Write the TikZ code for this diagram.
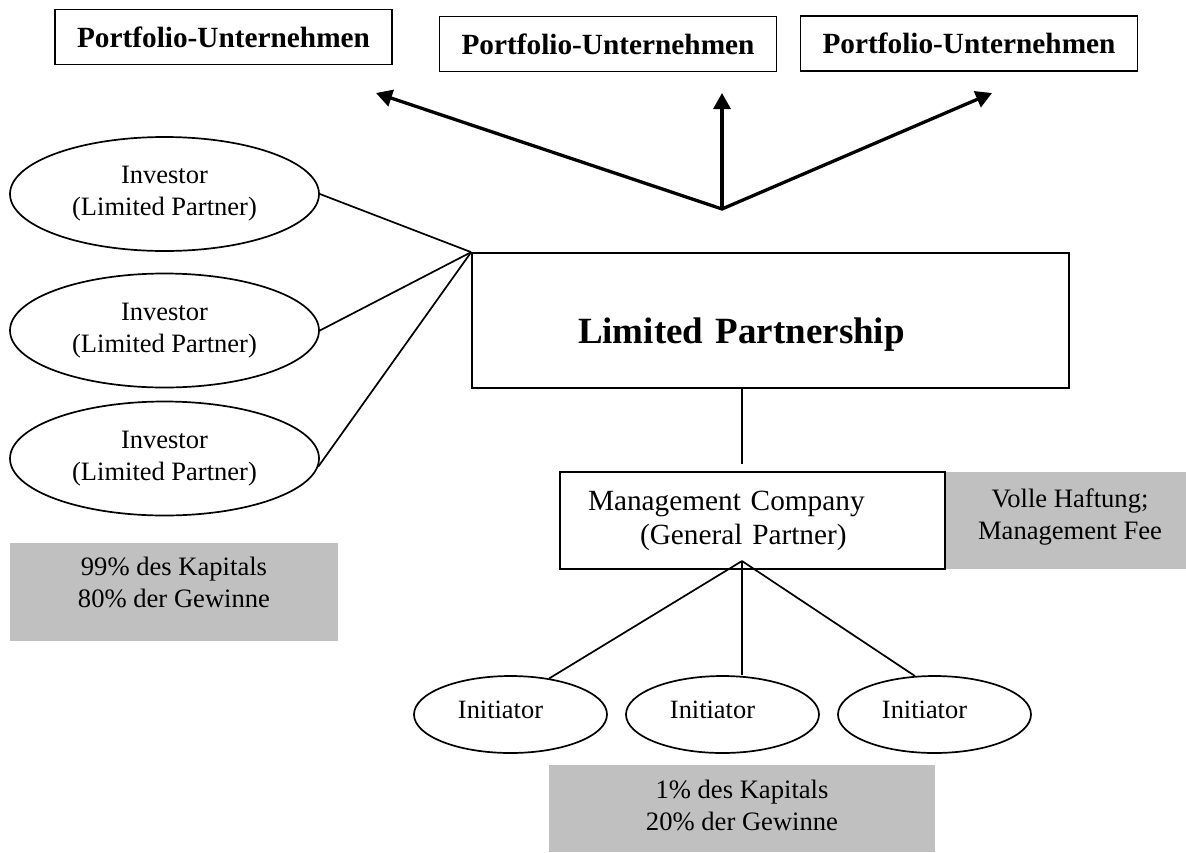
\documentclass[tikz,border=0pt]{standalone}
\usepackage{fontspec}
\setmainfont{Liberation Serif}
\usepackage{tikz}
\usetikzlibrary{shapes,arrows.meta}
\usepackage{xcolor}
\definecolor{noteGray}{RGB}{192,192,192}

\begin{document}
\begin{tikzpicture}[
  x=1pt,y=-1pt,
  company/.style={draw,line width=1.7pt,rectangle,minimum width=337pt,minimum height=55pt,inner sep=0pt,font=\fontsize{29.3pt}{35pt}\selectfont\bfseries},
  partnership/.style={draw,line width=1.7pt,rectangle,minimum width=597pt,minimum height=135pt,inner xsep=106pt,text width=385pt,align=left,text height=53pt,font=\fontsize{37pt}{44pt}\selectfont\bfseries},
  manager/.style={draw,line width=1.7pt,rectangle,minimum width=385pt,minimum height=97pt,inner xsep=28pt,text width=329pt,align=left,font=\fontsize{29.3pt}{34pt}\selectfont},
  investor/.style={draw,line width=1.7pt,ellipse,minimum width=309pt,minimum height=114pt,inner sep=0pt,align=center,font=\fontsize{26.5pt}{32pt}\selectfont},
  initiator/.style={draw,line width=1.7pt,ellipse,minimum width=193pt,minimum height=77pt,inner sep=0pt,text depth=9pt,font=\fontsize{26.4pt}{32pt}\selectfont},
  noteBox/.style={fill=noteGray,rectangle,inner sep=0pt},
  noteText/.style={anchor=north,inner sep=0pt,align=center,font=\fontsize{26.6pt}{32pt}\selectfont},
  link/.style={-,line width=1.7pt},
  forkArrow/.style={line width=3.3pt,>={Triangle[length=16pt,width=17pt]}}]

  \useasboundingbox (0,0) rectangle (1186,852);

  % grey notes
  \node[noteBox,minimum width=328pt,minimum height=98pt] (capL) at (174,592) {};
  \node[noteBox,minimum width=240pt,minimum height=97pt] (feeR) at (1066,520.5) {};
  \node[noteBox,minimum width=386pt,minimum height=87pt] (capB) at (742,808.5) {};
  \node[noteText] (capLtext) at ([yshift=-14pt]capL.north) {99\% des Kapitals\\80\% der Gewinne};
  \node[noteText] (feeRtext) at ([xshift=4pt,yshift=-17pt]feeR.north) {Volle Haftung;\\Management Fee};
  \node[noteText] (capBtext) at ([yshift=-15pt]capB.north) {1\% des Kapitals\\20\% der Gewinne};

  % portfolio companies
  \node[company] (pf1) at (223.5,37) {Portfolio-Unternehmen};
  \node[company] (pf2) at (608,44) {Portfolio-Unternehmen};
  \node[company] (pf3) at (969,43.5) {Portfolio-Unternehmen};

  % fund and partners
  \node[partnership] (lp) at (770.5,320.5) {Limited Partnership};
  \node[manager] (mc) at (752.5,520.5) {Management Company\\\hspace*{52pt}(General Partner)};

  \node[investor] (inv1) at (164.5,194) {Investor\\(Limited Partner)};
  \node[investor] (inv2) at (164.5,330.5) {Investor\\(Limited Partner)};
  \node[investor] (inv3) at (164.5,458.5) {Investor\\(Limited Partner)};

  \node[initiator] (ini1) at (510.5,714.5) {Initiator\hspace*{20pt}};
  \node[initiator] (ini2) at (722.5,714.5) {Initiator\hspace*{20pt}};
  \node[initiator] (ini3) at (934.5,714.5) {Initiator\hspace*{20pt}};

  \coordinate (fork) at (722,209);
  \coordinate (tipL) at (376,93);
  \coordinate (tipM) at (722,93);
  \coordinate (tipR) at (992,93);
  \coordinate (apex) at (742,561);

  % investments
  \draw[forkArrow,<->] (tipL) -- (fork) -- (tipR);
  \draw[forkArrow,->] (fork) -- (tipM);

  % investors to partnership
  \draw[link] (inv1.east) -- (lp.north west);
  \draw[link] (inv2.east) -- (lp.north west);
  \draw[link] (inv3.-3) -- (lp.north west);

  \draw[link,shorten >=7pt] (apex |- lp.south) -- (apex |- mc.north);

  % initiators
  \draw[link] (apex) -- (ini1.43);
  \draw[link] (apex) -- (apex |- ini2.north);
  \draw[link] (apex) -- (ini3.117);

\end{tikzpicture}
\end{document}
